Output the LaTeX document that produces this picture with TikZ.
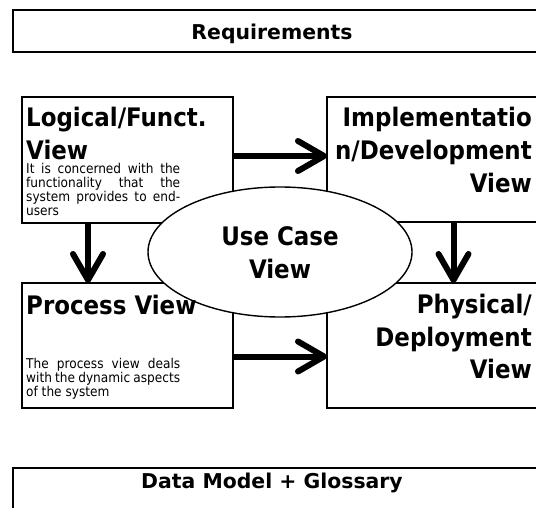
\documentclass[tikz,border=0pt]{standalone}
\usepackage{fontspec}
\setmainfont{DejaVu Sans}
\newfontfamily\condfont{DejaVu Sans Condensed}
\usetikzlibrary{arrows.meta,shapes.geometric}
\tikzset{
  box/.style={draw, line width=1.8pt, fill=white, inner sep=0pt, outer sep=0pt},
  bigarrow/.style={line width=6pt, -{Straight Barb[length=26pt,width=30pt,round]}},
  head/.style={font=\condfont\fontsize{25.5}{28}\selectfont\bfseries, inner sep=0pt},
  band/.style={font=\fontsize{20.4}{24}\selectfont\bfseries, inner sep=0pt},
  body/.style={font=\condfont\fontsize{13.5}{14}\selectfont, inner sep=0pt, anchor=base west},
}
\begin{document}
\begin{tikzpicture}[x=1pt,y=-1pt]
\useasboundingbox (0,0) rectangle (536,508);
\clip (0,0) rectangle (536,508);
\fill[white] (0,0) rectangle (536,508);
% boxes
\node[box, minimum width=532pt, minimum height=42pt, anchor=north west] (req) at (13,10) {};
\node[box, minimum width=211pt, minimum height=126pt, anchor=north west] (logical) at (22,97) {};
\node[box, minimum width=213pt, minimum height=125pt, anchor=north west] (impl) at (327,97) {};
\node[box, minimum width=211pt, minimum height=125pt, anchor=north west] (process) at (22,283) {};
\node[box, minimum width=213pt, minimum height=125pt, anchor=north west] (phys) at (327,283) {};
\node[box, minimum width=532pt, minimum height=50pt, anchor=north west] (data) at (13,468) {};
% arrows
\draw[bigarrow] ([yshift=4pt]logical.east) -- ([yshift=4pt]logical.east -| impl.west);
\draw[bigarrow] ([yshift=-11pt]process.east) -- ([yshift=-11pt]process.east -| phys.west);
\draw[bigarrow] ([xshift=-39.5pt]logical.south) -- ([xshift=-39.5pt]logical.south |- process.north);
\draw[bigarrow] ([xshift=20pt]impl.south) -- ([xshift=20pt]impl.south |- phys.north);
% band texts
\node[band, anchor=base] (reqt) at (272,40) {Requirements};
\node[band, anchor=base] (datat) at (272,488) {Data Model + Glossary};
% logical
\node[head, anchor=base west] (lt1) at (26,127) {Logical/Funct.};
\node[head, anchor=base west] (lt2) at (26,160) {View};
\node[body] (lb1) at (26,174) {\makebox[154pt][s]{It is concerned with the}};
\node[body] (lb2) at (26,188) {\makebox[154pt][s]{functionality that the}};
\node[body] (lb3) at (26,202) {\makebox[154pt][s]{system provides to end-}};
\node[body] (lb4) at (26,216) {users};
% implementation
\node[head, anchor=base east] (it1) at (532,127) {Implementatio};
\node[head, anchor=base east] (it2) at (532,160) {n/Development};
\node[head, anchor=base east] (it3) at (532,193) {View};
% physical
\node[head, anchor=base east] (pt1) at (532,313) {Physical/};
\node[head, anchor=base east] (pt2) at (532,346) {Deployment};
\node[head, anchor=base east] (pt3) at (532,378) {View};
% use case ellipse
\node[ellipse, draw, line width=1.4pt, fill=white, minimum width=264pt, minimum height=130pt, inner sep=0pt] (uc) at (280,252) {};
\node[head, anchor=base] (ut1) at (280,245) {Use Case};
\node[head, anchor=base] (ut2) at (280,278) {View};
% process
\node[head, anchor=base west] (prt) at (26,314) {Process View};
\node[body] (pb1) at (26,368) {\makebox[154pt][s]{The process view deals}};
\node[body] (pb2) at (26,382) {\makebox[154pt][s]{with the dynamic aspects}};
\node[body] (pb3) at (26,396) {of the system};
\end{tikzpicture}
\end{document}
